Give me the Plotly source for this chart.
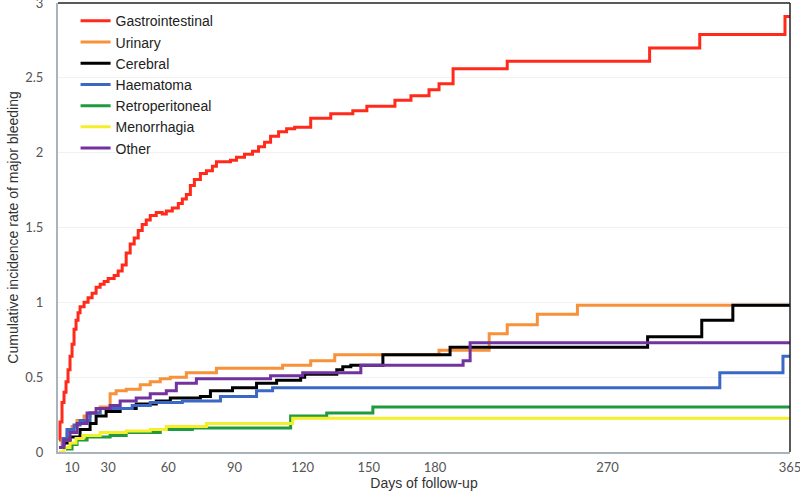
import plotly.graph_objects as go

# Days of follow-up (axis units) and cumulative incidence for each bleeding site
gi_days = [0.5, 1, 2, 3, 4, 5, 6, 7, 8, 9, 10, 11, 13, 15, 17, 19, 21, 23, 25, 28, 30, 32,
           34, 36, 38, 40, 42, 44, 46, 49, 52, 54, 57, 60, 62, 64, 66, 68, 71, 74, 77, 79,
           86, 89, 93, 97, 100, 103, 106, 110, 114, 118, 126, 136, 147, 154, 168, 176, 185,
           190, 197, 224, 295, 320, 362.5, 365]
gi_vals = [0.08, 0.2, 0.33, 0.4, 0.47, 0.55, 0.64, 0.72, 0.82, 0.88, 0.93, 0.97, 1.0, 1.03,
           1.06, 1.1, 1.12, 1.14, 1.16, 1.18, 1.21, 1.25, 1.33, 1.39, 1.43, 1.48, 1.52, 1.55,
           1.58, 1.6, 1.59, 1.61, 1.63, 1.66, 1.69, 1.72, 1.78, 1.82, 1.86, 1.88, 1.91, 1.94,
           1.95, 1.97, 1.99, 2.01, 2.04, 2.07, 2.11, 2.14, 2.16, 2.17, 2.23, 2.26, 2.28, 2.31,
           2.35, 2.38, 2.42, 2.46, 2.56, 2.61, 2.7, 2.79, 2.91, 2.91]

uri_days = [0.5, 2, 4.5, 7, 9.5, 13, 16, 21, 26, 29, 34, 41, 46, 51, 56, 64, 79, 112, 126,
            138, 190, 215, 224, 239, 259, 365]
uri_vals = [0.03, 0.08, 0.13, 0.17, 0.21, 0.24, 0.26, 0.3, 0.39, 0.41, 0.42, 0.45, 0.47, 0.49,
            0.5, 0.53, 0.56, 0.58, 0.61, 0.65, 0.68, 0.79, 0.85, 0.92, 0.98, 0.98]

cer_days = [0.5, 3, 6, 11, 16, 19, 24, 31, 39, 49, 56, 71, 76, 87, 99, 109, 121, 123, 139,
            142, 146, 162, 195.5, 294, 321, 336.5, 365]
cer_vals = [0.03, 0.06, 0.1, 0.15, 0.19, 0.24, 0.27, 0.29, 0.32, 0.34, 0.36, 0.37, 0.41, 0.43,
            0.46, 0.48, 0.5, 0.52, 0.55, 0.57, 0.58, 0.65, 0.7, 0.77, 0.88, 0.98, 0.98]

hae_days = [0.5, 2.5, 4.5, 8, 11, 16, 21, 37, 46, 62, 81, 99, 107, 330, 361.5, 365]
hae_vals = [0.03, 0.09, 0.15, 0.18, 0.21, 0.26, 0.29, 0.31, 0.33, 0.34, 0.37, 0.41, 0.43,
            0.53, 0.64, 0.64]

ret_days = [4, 7, 9.5, 14.5, 26, 34, 51, 67, 116, 134, 157, 365]
ret_vals = [0.02, 0.05, 0.08, 0.1, 0.11, 0.13, 0.15, 0.16, 0.24, 0.26, 0.3, 0.3]

men_days = [0.5, 3, 6, 9, 12.5, 21, 34, 46, 54, 74, 117, 365]
men_vals = [0.0, 0.03, 0.06, 0.09, 0.11, 0.13, 0.14, 0.15, 0.17, 0.19, 0.225, 0.225]

oth_days = [0.5, 3, 6, 9.5, 14.5, 19, 26, 31, 39, 46, 54, 59, 69, 106, 122, 151, 202, 205.5, 365]
oth_vals = [0.03, 0.08, 0.13, 0.19, 0.26, 0.29, 0.31, 0.34, 0.36, 0.39, 0.41, 0.46, 0.49, 0.51,
            0.53, 0.58, 0.61, 0.73, 0.73]

series = [
    ("Gastrointestinal", gi_days, gi_vals, "#FF2A1A"),
    ("Urinary", uri_days, uri_vals, "#F7913A"),
    ("Cerebral", cer_days, cer_vals, "#000000"),
    ("Haematoma", hae_days, hae_vals, "#3B68C4"),
    ("Retroperitoneal", ret_days, ret_vals, "#1F9A3F"),
    ("Menorrhagia", men_days, men_vals, "#F7EE2A"),
    ("Other", oth_days, oth_vals, "#7232A0"),
]

# x tick labels as they sit under the axis in the original
tick_pos = [7, 25, 55, 88, 122, 155, 188, 274, 365]
tick_text = ["10", "30", "60", "90", "120", "150", "180", "270", "365"]

fig = go.Figure()
for name, xs, ys, col in series:
    fig.add_trace(go.Scatter(x=xs, y=ys, name=name, mode="lines",
                             line=dict(color=col, width=3, shape="hv")))

fig.update_layout(
    width=800, height=493,
    margin=dict(l=58, r=10, t=3, b=41),
    plot_bgcolor="white", paper_bgcolor="white",
    font=dict(family="Liberation Sans, Arial", size=14, color="#333333"),
    showlegend=True,
    legend=dict(x=0.024, y=0.995, xanchor="left", yanchor="top",
                bgcolor="rgba(0,0,0,0)", font=dict(size=14, color="#222222"),
                itemwidth=30, tracegroupgap=0),
    xaxis=dict(range=[0, 365], tickvals=tick_pos, ticktext=tick_text,
               automargin=False, ticklabeloverflow="allow",
               showgrid=False, zeroline=False, showline=True, linecolor="#A9B3BA",
               linewidth=2, ticks="", ticklabelstandoff=2,
               tickfont=dict(family="Lato, Open Sans", size=13, color="#555555"),
               title=dict(text="Days of follow-up", standoff=0,
                          font=dict(size=14, color="#333333"))),
    yaxis=dict(range=[0, 3], dtick=0.5, showgrid=True, gridcolor="#F1F1F1", gridwidth=1,
               automargin=False, ticklabeloverflow="allow",
               zeroline=False, showline=True, linecolor="#A9B3BA", linewidth=2, ticks="",
               ticklabelstandoff=10,
               tickfont=dict(family="Lato, Open Sans", size=13, color="#555555"),
               title=dict(text="Cumulative incidence rate of major bleeding", standoff=3,
                          font=dict(size=14, color="#333333"))),
)

# dark frame on top and right of the plot area
fig.add_shape(type="line", xref="paper", yref="paper", x0=0, x1=1, y0=1, y1=1,
              line=dict(color="#222222", width=1.5))
fig.add_shape(type="line", xref="paper", yref="paper", x0=1, x1=1, y0=0, y1=1,
              line=dict(color="#222222", width=1.5))

# page body has a default margin; drop it so the figure sits at the window corner
fig.write_html("out.html", config={"displayModeBar": False},
               post_script="document.body.style.margin='0';")
